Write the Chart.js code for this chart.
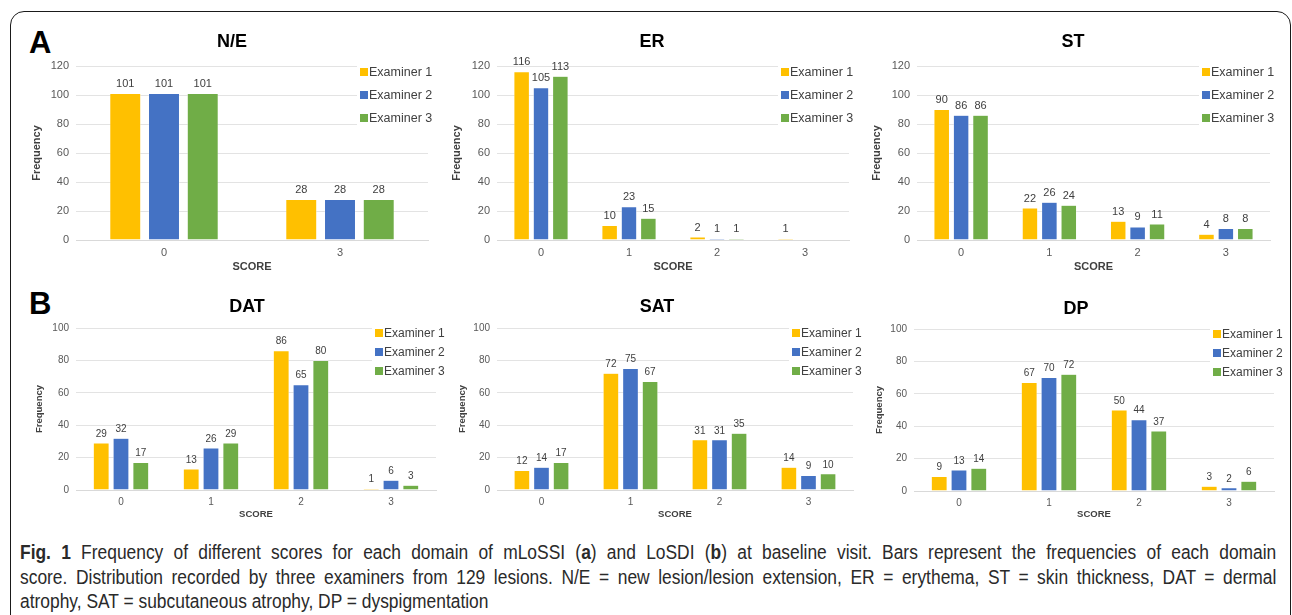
<!DOCTYPE html>
<html>
<head>
<meta charset="utf-8">
<script src="https://cdn.jsdelivr.net/npm/chart.js@4.4.0/dist/chart.umd.min.js"></script>
<style>
  body { margin: 0; background: #fff; width: 1292px; height: 615px; overflow: hidden; position: relative; font-family: "Liberation Sans", Arial, sans-serif; }
  .frame { position: absolute; left: 10px; top: 11px; width: 1281px; height: 660px; border: 1.5px solid #1a1a1a; border-radius: 14px; box-sizing: border-box; }
  .panel { position: absolute; font-weight: bold; font-size: 31px; color: #000; line-height: 1; }
  canvas { position: absolute; }
  #caption { position: absolute; left: 20px; top: 540px; width: 1444px; transform: scaleX(0.87); transform-origin: 0 0; font-family: "Liberation Sans", Arial, sans-serif; font-size: 20px; line-height: 24.5px; color: #2a2a2a; }
  #caption div { text-align: justify; text-align-last: justify; white-space: nowrap; }
  #caption div.last { text-align-last: left; }
</style>
</head>
<body>
<div class="frame"></div>
<div class="panel" style="left:29px;top:27px;">A</div>
<div class="panel" style="left:29px;top:288px;">B</div>

<canvas id="ne"></canvas>
<canvas id="er"></canvas>
<canvas id="st"></canvas>
<canvas id="dat"></canvas>
<canvas id="sat"></canvas>
<canvas id="dp"></canvas>

<div id="caption">
  <div><b>Fig. 1</b> Frequency of different scores for each domain of mLoSSI (<b>a</b>) and LoSDI (<b>b</b>) at baseline visit. Bars represent the frequencies of each domain</div>
  <div>score. Distribution recorded by three examiners from 129 lesions. N/E = new lesion/lesion extension, ER = erythema, ST = skin thickness, DAT = dermal</div>
  <div class="last">atrophy, SAT = subcutaneous atrophy, DP = dyspigmentation</div>
</div>

<script>
// Data
const examiners = ['Examiner 1', 'Examiner 2', 'Examiner 3'];
const neScores = ['0', '3'];
const scores = ['0', '1', '2', '3'];

const neE1 = [101, 28];
const neE2 = [101, 28];
const neE3 = [101, 28];

const erE1 = [116, 10, 2, 1];
const erE2 = [105, 23, 1, 0];
const erE3 = [113, 15, 1, 0];

const stE1 = [90, 22, 13, 4];
const stE2 = [86, 26, 9, 8];
const stE3 = [86, 24, 11, 8];

const datE1 = [29, 13, 86, 1];
const datE2 = [32, 26, 65, 6];
const datE3 = [17, 29, 80, 3];

const satE1 = [12, 72, 31, 14];
const satE2 = [14, 75, 31, 9];
const satE3 = [17, 67, 35, 10];

const dpE1 = [9, 67, 50, 3];
const dpE2 = [13, 70, 44, 2];
const dpE3 = [14, 72, 37, 6];

const colors = ['#FFC000', '#4472C4', '#70AD47'];
const FONT = '"Liberation Sans", Arial, sans-serif';

// value labels above the bars
const valueLabels = {
  id: 'valueLabels',
  afterDatasetsDraw(chart, args, opts) {
    const ctx = chart.ctx;
    ctx.save();
    ctx.font = opts.size + 'px ' + FONT;
    ctx.fillStyle = '#404040';
    ctx.textAlign = 'center';
    ctx.textBaseline = 'bottom';
    chart.data.datasets.forEach((ds, i) => {
      chart.getDatasetMeta(i).data.forEach((bar, j) => {
        if (ds.data[j] > 0) ctx.fillText(ds.data[j], bar.x, bar.y - 4);
      });
    });
    ctx.restore();
  }
};

// title + legend drawn inside the plot, like the excel charts
const decor = {
  id: 'decor',
  afterDraw(chart, args, o) {
    const ctx = chart.ctx;
    const area = chart.chartArea;
    ctx.save();
    ctx.font = 'bold 18px ' + FONT;
    ctx.fillStyle = '#000';
    ctx.textAlign = 'center';
    ctx.textBaseline = 'middle';
    ctx.fillText(o.title, o.titleX, o.titleY);

    const lx = area.right - o.legendDx;
    ctx.fillStyle = '#fff';
    ctx.fillRect(lx - 3, area.top + o.legendDy - o.legendGap / 2, o.legendDx + 3, o.legendGap * 3);
    ctx.font = o.legendSize + 'px ' + FONT;
    ctx.textAlign = 'left';
    chart.data.datasets.forEach((ds, i) => {
      const y = area.top + o.legendDy + i * o.legendGap;
      ctx.fillStyle = ds.backgroundColor;
      ctx.fillRect(lx, y - 4, 8, 8);
      ctx.fillStyle = '#404040';
      ctx.fillText(ds.label, lx + 9, y + 1);
    });
    ctx.restore();
  }
};

function drawChart(id, title, labels, series, yMax, lay) {
  const c = lay.canvas, p = lay.plot;
  const el = document.getElementById(id);
  el.width = c.w;
  el.height = c.h;
  el.style.left = c.x + 'px';
  el.style.top = c.y + 'px';
  new Chart(el, {
    type: 'bar',
    data: {
      labels: labels,
      datasets: series.map((d, i) => ({
        label: examiners[i],
        data: d,
        backgroundColor: colors[i],
        borderColor: '#ffffff',
        borderWidth: 0.5,
        categoryPercentage: 0.66,
        barPercentage: 0.8
      }))
    },
    options: {
      responsive: false,
      animation: false,
      layout: { padding: { left: 0, top: p.t - c.y, right: c.x + c.w - p.r, bottom: 0 } },
      plugins: {
        legend: { display: false },
        tooltip: { enabled: false },
        valueLabels: { size: lay.small },
        decor: {
          title: title,
          titleX: lay.titleX - c.x,
          titleY: lay.titleY - c.y,
          legendDx: lay.legendDx,
          legendDy: lay.legendDy,
          legendGap: lay.legendGap,
          legendSize: lay.legendSize
        }
      },
      scales: {
        x: {
          grid: { display: false, drawTicks: false },
          border: { color: '#d9d9d9', width: 1 },
          ticks: { color: '#595959', font: { family: FONT, size: lay.small }, padding: 6 },
          title: { display: true, text: 'SCORE', color: '#404040', font: { family: FONT, size: lay.axisTitle, weight: 'bold' }, padding: { top: lay.scorePad, bottom: lay.scorePad } },
          afterFit(s) { s.height = c.y + c.h - p.b; }
        },
        y: {
          min: 0,
          max: yMax,
          grid: { color: '#e3e3e3', drawTicks: false },
          border: { display: false },
          ticks: { stepSize: 20, color: '#595959', font: { family: FONT, size: lay.small }, padding: 7 },
          title: { display: true, text: 'Frequency', color: '#404040', font: { family: FONT, size: lay.axisTitle, weight: 'bold' }, padding: { top: lay.freqPad, bottom: lay.freqPad } },
          afterFit(s) { s.width = p.l - c.x; }
        }
      }
    },
    plugins: [valueLabels, decor]
  });
}

const rowA = { small: 11, axisTitle: 11, legendDx: 68, legendDy: 6, legendGap: 23, legendSize: 12.5, scorePad: 1, titleY: 42 };
const rowB = { small: 10, axisTitle: 9.5, legendDx: 61, legendDy: 5, legendGap: 19, legendSize: 12, scorePad: 5, titleY: 307 };

drawChart('ne', 'N/E', neScores, [neE1, neE2, neE3], 120, Object.assign({}, rowA, {
  canvas: { x: 20, y: 30, w: 420, h: 245 }, plot: { l: 76, r: 428, t: 66, b: 240 }, titleX: 232, freqPad: 10 }));
drawChart('er', 'ER', scores, [erE1, erE2, erE3], 120, Object.assign({}, rowA, {
  canvas: { x: 440, y: 30, w: 420, h: 245 }, plot: { l: 497, r: 849, t: 66, b: 240 }, titleX: 652, freqPad: 10 }));
drawChart('st', 'ST', scores, [stE1, stE2, stE3], 120, Object.assign({}, rowA, {
  canvas: { x: 860, y: 30, w: 425, h: 245 }, plot: { l: 917, r: 1270, t: 66, b: 240 }, titleX: 1073, freqPad: 10 }));

drawChart('dat', 'DAT', scores, [datE1, datE2, datE3], 100, Object.assign({}, rowB, {
  canvas: { x: 20, y: 285, w: 425, h: 240 }, plot: { l: 76, r: 436, t: 328, b: 490 }, titleX: 247, freqPad: 14 }));
drawChart('sat', 'SAT', scores, [satE1, satE2, satE3], 100, Object.assign({}, rowB, {
  canvas: { x: 445, y: 285, w: 420, h: 240 }, plot: { l: 497, r: 853, t: 328, b: 490 }, titleX: 657, freqPad: 12 }));
drawChart('dp', 'DP', scores, [dpE1, dpE2, dpE3], 100, Object.assign({}, rowB, {
  canvas: { x: 865, y: 285, w: 420, h: 240 }, plot: { l: 914, r: 1274, t: 329, b: 491 }, titleX: 1076, titleY: 309, freqPad: 9 }));
</script>
</body>
</html>
